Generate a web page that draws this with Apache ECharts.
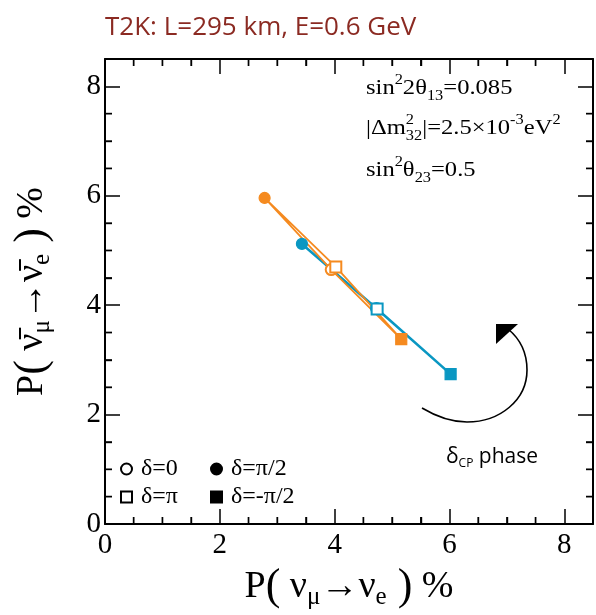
<!DOCTYPE html>
<html><head><meta charset="utf-8">
<script src="https://cdn.jsdelivr.net/npm/echarts@6/dist/echarts.min.js"></script>
<style>html,body{margin:0;padding:0;background:#fff}#c{width:596px;height:615px}</style>
</head><body><div id="c"></div>
<script>
// ---- data ----
const deltaNames = ['δ=0', 'δ=π/2', 'δ=π', 'δ=-π/2'];
const deltaSymbols = ['emptyCircle', 'circle', 'emptyRect', 'rect'];
const orangeX = [3.94, 2.78, 4.02, 5.16];
const orangeY = [4.65, 5.96, 4.70, 3.38];
const blueX = [4.73, 3.43, 4.74, 6.02];
const blueY = [3.94, 5.12, 3.93, 2.74];
const loopOrder = [0, 1, 2, 3, 0];
const xTickLabels = [0, 2, 4, 6, 8];
const yTickLabels = [0, 2, 4, 6, 8];
const minorTickValues = [0.5, 1, 1.5, 2.5, 3, 3.5, 4.5, 5, 5.5, 6.5, 7, 7.5];

const AXMIN = 0, AXMAX = 8.5;
const ORANGE = '#F58A1F';
const BLUE = '#0A97C2';
const SERIF = 'Liberation Serif';

function loopData(xs, ys) { return loopOrder.map(i => [xs[i], ys[i]]); }
function pointData(xs, ys) {
  return xs.map((x, i) => ({ value: [x, ys[i]], symbol: deltaSymbols[i] }));
}

function axis(pos, extra) {
  return Object.assign({
    type: 'value', position: pos, min: AXMIN, max: AXMAX, interval: 2,
    axisLine: { show: true, onZero: false, lineStyle: { color: '#000', width: 2 } },
    axisTick: { show: true, inside: true, length: 15, lineStyle: { color: '#000', width: 1.5 } },
    minorTick: { show: true, splitNumber: 4, length: 7, lineStyle: { color: '#000', width: 1.4 } },
    axisLabel: { show: false },
    splitLine: { show: false },
    minorSplitLine: { show: false }
  }, extra || {});
}

const nameRich = {
  p: { fontFamily: SERIF, fontSize: 38, lineHeight: 46, color: '#000' },
  b: { fontFamily: SERIF, fontSize: 44, lineHeight: 46, color: '#000' },
  n: { fontFamily: SERIF, fontSize: 38, lineHeight: 46, color: '#000' },
  s: { fontFamily: SERIF, fontSize: 25, lineHeight: 20, verticalAlign: 'bottom', color: '#000' }
};

const xAxes = [
  axis('bottom', {
    axisLabel: { show: true, margin: 7, fontFamily: SERIF, fontSize: 29, color: '#000',
      formatter: v => xTickLabels.includes(v) ? String(v) : '' },
    name: '{p|P}{b|(}{n| ν}{s|μ}{n|→ν}{s|e}{b| )}{n| %}',
    nameLocation: 'middle', nameGap: 40,
    nameTextStyle: { rich: nameRich }
  }),
  axis('top')
];
const yAxes = [
  axis('left', {
    axisLabel: { show: true, margin: 4, fontFamily: SERIF, fontSize: 29, color: '#000',
      formatter: v => yTickLabels.includes(v) ? String(v) : '' },
    name: '{p|P}{b|(}{n| ν\u0304}{s|μ}{n|→ν\u0304}{s|e}{b| )}{n| %}',
    nameLocation: 'middle', nameGap: 50,
    nameTextStyle: { rich: nameRich }
  }),
  axis('right')
];

function minorTicksRender(params, api) {
  const v = api.value(0);
  const L = 7;
  const b = api.coord([v, AXMIN]), t = api.coord([v, AXMAX]);
  const l = api.coord([AXMIN, v]), r = api.coord([AXMAX, v]);
  return { type: 'group', children: [
    { type: 'line', shape: { x1: b[0], y1: b[1], x2: b[0], y2: b[1] - L }, style: { stroke: '#000', lineWidth: 1.4 } },
    { type: 'line', shape: { x1: t[0], y1: t[1], x2: t[0], y2: t[1] + L }, style: { stroke: '#000', lineWidth: 1.4 } },
    { type: 'line', shape: { x1: l[0], y1: l[1], x2: l[0] + L, y2: l[1] }, style: { stroke: '#000', lineWidth: 1.4 } },
    { type: 'line', shape: { x1: r[0], y1: r[1], x2: r[0] - L, y2: r[1] }, style: { stroke: '#000', lineWidth: 1.4 } }
  ] };
}

const series = [
  { type: 'custom', name: 'minorTicks', data: minorTickValues.map(v => [v, AXMIN]), renderItem: minorTicksRender,
    clip: false, silent: true, z: 1 },
  { type: 'line', name: 'blueLoop', data: loopData(blueX, blueY), showSymbol: false, symbol: 'none',
    lineStyle: { color: BLUE, width: 2.6 }, z: 2, silent: true },
  { type: 'line', name: 'orangeLoop', data: loopData(orangeX, orangeY), showSymbol: false, symbol: 'none',
    lineStyle: { color: ORANGE, width: 1.8 }, z: 3, silent: true },
  { type: 'scatter', name: 'bluePts', data: pointData(blueX, blueY), symbolSize: 11,
    itemStyle: { color: BLUE, borderColor: BLUE, borderWidth: 1.2, opacity: 1 }, z: 4 },
  { type: 'scatter', name: 'orangePts', data: pointData(orangeX, orangeY), symbolSize: 11,
    itemStyle: { color: ORANGE, borderColor: ORANGE, borderWidth: 1.2, opacity: 1 }, z: 5 }
];
deltaNames.forEach((nm, i) => {
  series.push({ type: 'scatter', name: nm, data: [], symbol: deltaSymbols[i], symbolSize: 11,
    itemStyle: { color: '#000', borderColor: '#000', borderWidth: 1, opacity: 1 } });
});

const annRich = {
  m: { fontFamily: SERIF, fontSize: 21, lineHeight: 30, color: '#000' },
  sup: { fontFamily: SERIF, fontSize: 14, lineHeight: 12, verticalAlign: 'top', color: '#000' },
  sup0: { fontFamily: SERIF, fontSize: 14, lineHeight: 12, verticalAlign: 'top', width: 0, color: '#000' },
  sub: { fontFamily: SERIF, fontSize: 14, lineHeight: 12, verticalAlign: 'bottom', color: '#000' }
};

const chart = echarts.init(document.getElementById('c'), null, { renderer: 'canvas' });
chart.setOption({
  animation: false,
  backgroundColor: '#fff',
  title: {
    text: 'T2K: L=295 km, E=0.6 GeV', left: 100, top: 10,
    textStyle: { fontFamily: 'Open Sans', fontSize: 26, fontWeight: 'normal', color: '#8B2A22' }
  },
  grid: { left: 105, right: -2, top: 59, bottom: 91, containLabel: false },
  xAxis: xAxes,
  yAxis: yAxes,
  legend: {
    data: deltaNames, left: 115, top: 452, width: 200, orient: 'horizontal',
    itemWidth: 11, itemHeight: 11, itemGap: 4, selectedMode: false,
    textStyle: { fontFamily: SERIF, fontSize: 24, color: '#000', width: 65, lineHeight: 20, padding: [0, 0, 0, 4] }
  },
  series: series,
  graphic: [
    { type: 'text', x: 366, y: 73, scaleX: 1.17, style: { text: '{m|sin}{sup|2}{m|2θ}{sub|13}{m|=0.085}', rich: annRich } },
    { type: 'text', x: 366, y: 113, scaleX: 1.17, style: { text: '{m||Δm}{sup0|2}{sub|32}{m||=2.5×10}{sup|-3}{m|eV}{sup|2}', rich: annRich } },
    { type: 'text', x: 366, y: 155, scaleX: 1.17, style: { text: '{m|sin}{sup|2}{m|θ}{sub|23}{m|=0.5}', rich: annRich } },
    { type: 'bezierCurve', shape: { x1: 422, y1: 408, cpx1: 437, cpy1: 417, cpx2: 452, cpy2: 422, x2: 467, y2: 422 },
      style: { fill: null, stroke: '#000', lineWidth: 1.6 } },
    { type: 'bezierCurve', shape: { x1: 467, y1: 422, cpx1: 500, cpy1: 422, cpx2: 527, cpy2: 400, x2: 527, y2: 370 },
      style: { fill: null, stroke: '#000', lineWidth: 1.6 } },
    { type: 'bezierCurve', shape: { x1: 527, y1: 370, cpx1: 527, cpy1: 352, cpx2: 519, cpy2: 338, x2: 508, y2: 329 },
      style: { fill: null, stroke: '#000', lineWidth: 1.6 } },
    { type: 'polygon', shape: { points: [[496, 324], [518, 324], [496, 344]] }, style: { fill: '#000' } },
    { type: 'text', x: 446, y: 444, style: {
      text: '{d|δ}{c|CP}{d| phase}',
      rich: {
        d: { fontFamily: 'Open Sans', fontSize: 21, lineHeight: 26, color: '#000' },
        c: { fontFamily: 'Open Sans', fontSize: 12, lineHeight: 17, verticalAlign: 'bottom', color: '#000' }
      } } }
  ]
});
</script></body></html>
